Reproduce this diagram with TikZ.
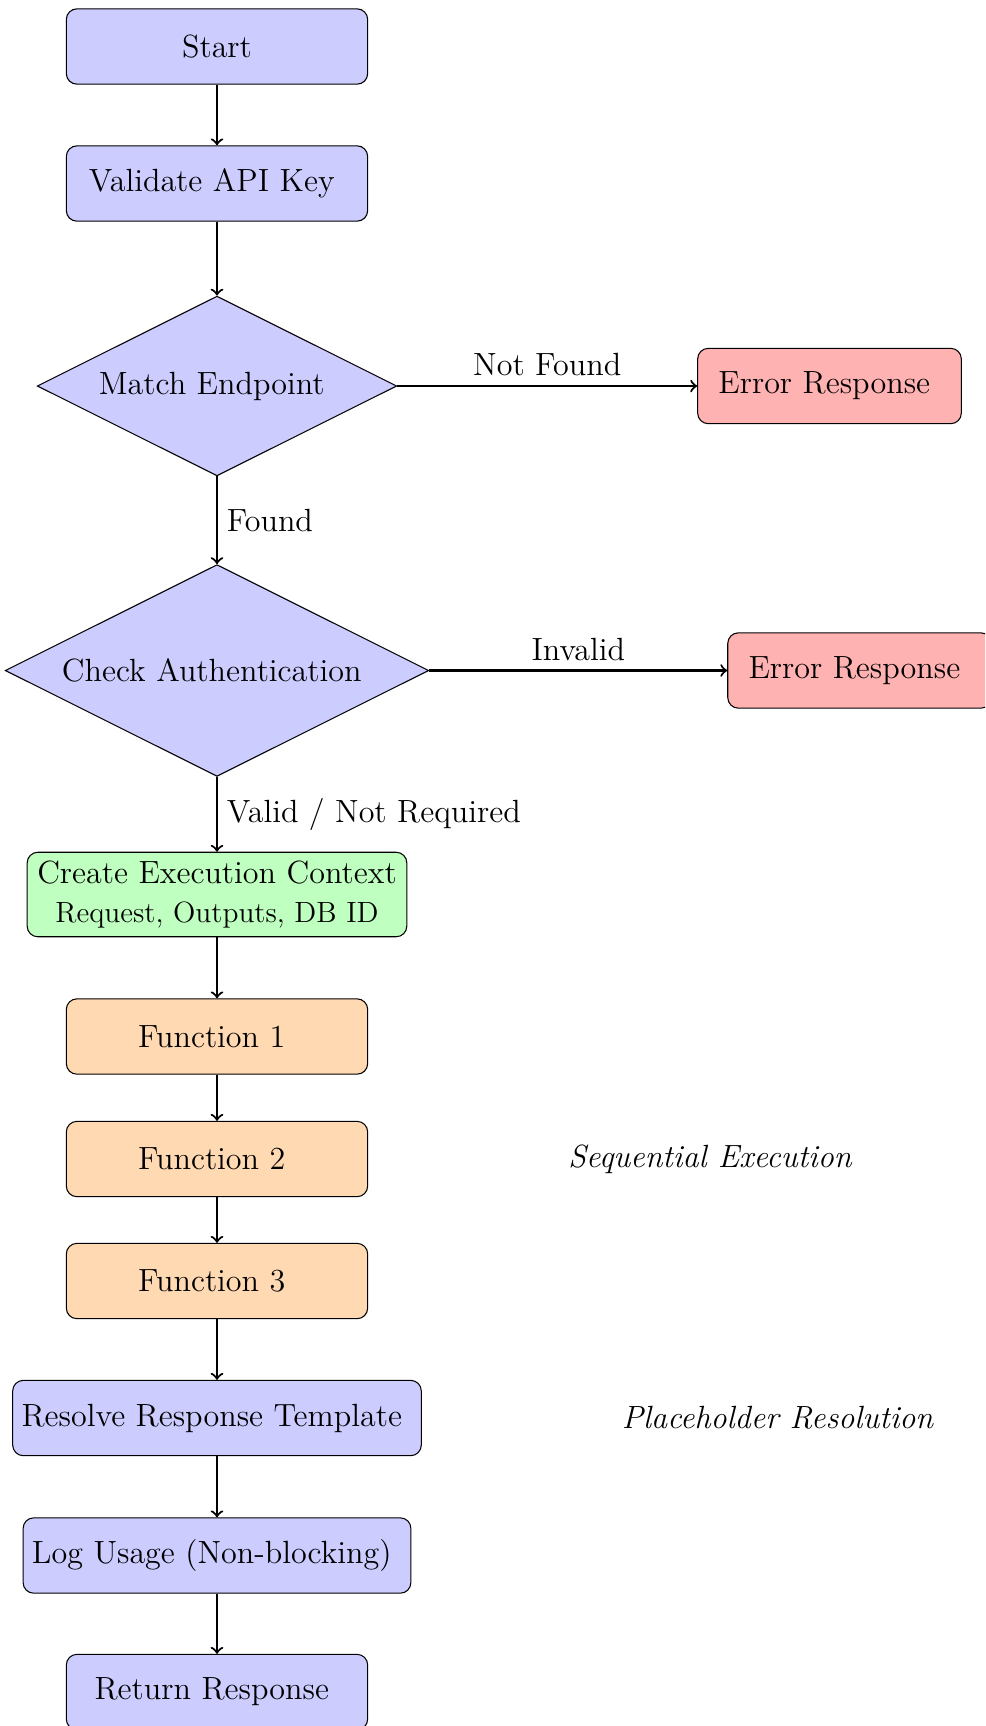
\documentclass[tikz,border=0pt]{standalone}
\usetikzlibrary{shapes.geometric}
% trailing word space after a label, kept as a kern so it is not stripped
\newcommand\trailsp{\kern0.326em}
\begin{document}
\begin{tikzpicture}[x=0.01328cm, y=-0.01328cm,
  every node/.style={font=\fontsize{12.13}{14.56}\selectfont},
  box/.style={rectangle, rounded corners, draw, minimum width=4cm, minimum height=1cm},
  process/.style={box, fill=blue!20},
  errorbox/.style={box, fill=red!30, minimum width=3.5cm},
  ctx/.style={box, fill=green!25, align=center, inner xsep=3.8pt},
  func/.style={box, fill=orange!30},
  decision/.style={diamond, aspect=2, draw, fill=blue!20, inner sep=4.17pt},
  note/.style={font=\fontsize{12.13}{14.56}\selectfont\itshape},
  flow/.style={thick, ->},
]
\useasboundingbox (0,0) rectangle (985,1726);
\clip (0,0) rectangle (985,1726);

% main column
\node[process]  (start)    at (217,46.5)  {Start};
\node[process]  (validate) at (217,183.5) {Validate API Key\trailsp};
\node[decision] (match)    at (217,386)   {Match Endpoint\trailsp};
\node[decision] (auth)     at (217,670.5) {Check Authentication\trailsp};
\node[ctx]      (context)  at (217,894.5) {Create Execution Context\\{\fontsize{11.07}{13.7}\selectfont Request, Outputs, DB ID}};
\node[func]     (f1)       at (217,1036.5) {Function 1\trailsp};
\node[func]     (f2)       at (217,1159)   {Function 2\trailsp};
\node[func]     (f3)       at (217,1281)   {Function 3\trailsp};
\node[process]  (resolve)  at (217,1418)   {Resolve Response Template\trailsp};
\node[process]  (log)      at (217,1555.5) {Log Usage (Non-blocking)\trailsp};
\node[process]  (ret)      at (217,1692)   {Return Response\trailsp};

% error branches
\node[errorbox] (err1) at (829.5,386)   {Error Response\trailsp};
\node[errorbox] (err2) at (859.6,670.5) {Error Response\trailsp};

% side notes
\node[note] (seq)  at (710,1159)  {Sequential Execution};
\node[note] (ph)   at (777.5,1418) {Placeholder Resolution};

% connectors
\draw[flow] (start) -- (validate);
\draw[flow] (validate) -- (match);
\draw[flow] (match) -- node[right] {Found} (auth);
\draw[flow] (match) -- node[above] {Not Found} (err1);
\draw[flow] (auth) -- node[above] {Invalid} (err2);
\draw[flow] (auth) -- node[right] {Valid / Not Required} (context);
\draw[flow] (context) -- (f1);
\draw[flow] (f1) -- (f2);
\draw[flow] (f2) -- (f3);
\draw[flow] (f3) -- (resolve);
\draw[flow] (resolve) -- (log);
\draw[flow] (log) -- (ret);
\end{tikzpicture}
\end{document}
